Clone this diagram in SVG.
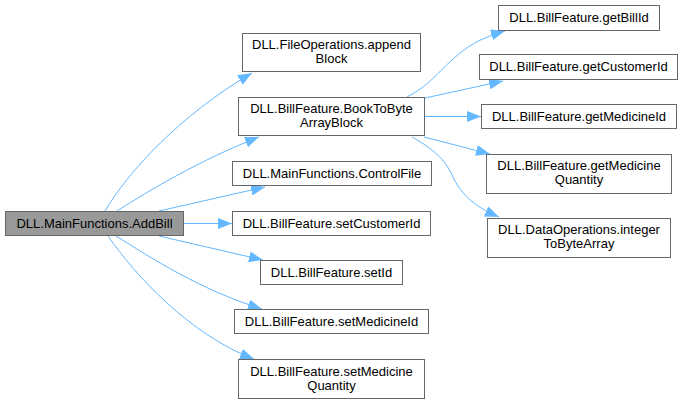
<svg xmlns="http://www.w3.org/2000/svg" width="684" height="405" viewBox="0 0 684 405">
<style>
.n rect{fill:#ffffff;stroke:#666666;stroke-width:1}
.n.root rect{fill:#999999}
.n text{font-family:"Liberation Sans",Arial,sans-serif;font-size:13px;fill:#000000;text-anchor:middle}
.e path{fill:none;stroke:#63b8ff;stroke-width:1;marker-end:url(#ah)}
</style>
<defs>
<marker id="ah" markerUnits="userSpaceOnUse" markerWidth="14" markerHeight="11" refX="14" refY="5.5" orient="auto">
<path d="M0,0 L14,5.5 L0,11 Z" fill="#63b8ff"/>
</marker>
</defs>
<rect width="684" height="405" fill="#ffffff"/>
<g id="connectors" class="e">
<path d="M105,211 C128,172 180,115 252,73"/>
<path d="M117,211 C150,190 200,160 259,137"/>
<path d="M159,211 L265,187"/>
<path d="M184,223.5 L232,223.5"/>
<path d="M159,236 L263,260"/>
<path d="M116,236 C150,257 200,290 262,309"/>
<path d="M108,236 C135,275 190,335 254,359"/>
<path d="M407,97 C430,85 440,70 452,60 C466,47 480,38 505,31"/>
<path d="M425,98 L503,81"/>
<path d="M425,116.5 L481,116.5"/>
<path d="M424,137 L490,154"/>
<path d="M412,137 C435,150 445,160 452,175 C462,197 478,208 499,217"/>
</g>
<g id="AddBill" class="n root"><rect x="5.5" y="211.5" width="178" height="24"/><text x="94.5" y="228">DLL.MainFunctions.AddBill</text></g>
<g id="appendBlock" class="n"><rect x="242.5" y="33.5" width="178" height="38"/><text x="331.5" y="49">DLL.FileOperations.append</text><text x="331.5" y="63">Block</text></g>
<g id="BookToByteArrayBlock" class="n"><rect x="238.5" y="97.5" width="186" height="38"/><text x="331.5" y="113">DLL.BillFeature.BookToByte</text><text x="331.5" y="127">ArrayBlock</text></g>
<g id="ControlFile" class="n"><rect x="232.5" y="161.5" width="199" height="24"/><text x="332" y="178">DLL.MainFunctions.ControlFile</text></g>
<g id="setCustomerId" class="n"><rect x="232.5" y="211.5" width="198" height="24"/><text x="331.5" y="228">DLL.BillFeature.setCustomerId</text></g>
<g id="setId" class="n"><rect x="260.5" y="260.5" width="142" height="24"/><text x="331.5" y="277">DLL.BillFeature.setId</text></g>
<g id="setMedicineId" class="n"><rect x="234.5" y="309.5" width="194" height="24"/><text x="331.5" y="326">DLL.BillFeature.setMedicineId</text></g>
<g id="setMedicineQuantity" class="n"><rect x="238.5" y="359.5" width="186" height="39"/><text x="331.5" y="376">DLL.BillFeature.setMedicine</text><text x="331.5" y="390">Quantity</text></g>
<g id="getBillId" class="n"><rect x="498.5" y="5.5" width="161" height="25"/><text x="579" y="22">DLL.BillFeature.getBillId</text></g>
<g id="getCustomerId" class="n"><rect x="479.5" y="54.5" width="198" height="25"/><text x="578.5" y="71">DLL.BillFeature.getCustomerId</text></g>
<g id="getMedicineId" class="n"><rect x="481.5" y="104.5" width="195" height="24"/><text x="579" y="121">DLL.BillFeature.getMedicineId</text></g>
<g id="getMedicineQuantity" class="n"><rect x="486.5" y="154.5" width="185" height="39"/><text x="579" y="170">DLL.BillFeature.getMedicine</text><text x="579" y="184">Quantity</text></g>
<g id="integerToByteArray" class="n"><rect x="487.5" y="218.5" width="183" height="39"/><text x="579" y="234">DLL.DataOperations.integer</text><text x="579" y="248">ToByteArray</text></g>
</svg>
